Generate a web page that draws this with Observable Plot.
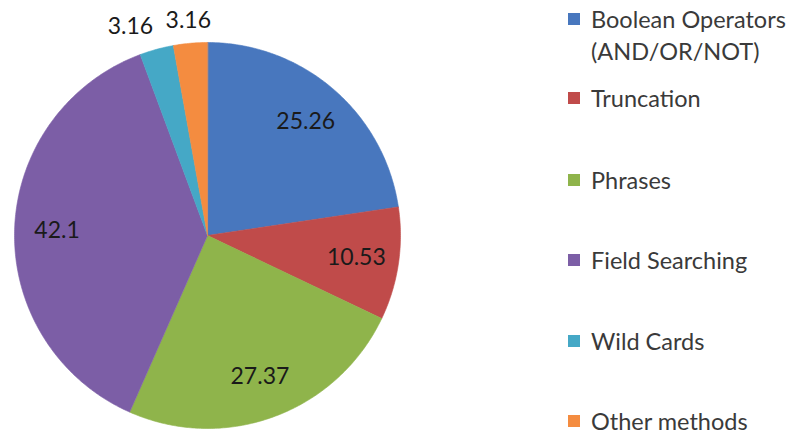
<!DOCTYPE html>
<html>
<head>
<meta charset="utf-8">
<script src="https://cdn.jsdelivr.net/npm/d3@7"></script>
<script src="https://cdn.jsdelivr.net/npm/@observablehq/plot@0.6"></script>
<style>
  html, body { margin: 0; padding: 0; background: #fff; }
  #wrap { position: relative; width: 794px; height: 435px; overflow: hidden; }
  #legend { position: absolute; left: 568px; top: 0; font-family: Lato, sans-serif; font-size: 23.5px; color: #3a3a3a; }
  .item { position: absolute; left: 0; display: flex; align-items: flex-start; white-space: nowrap; line-height: 32px; }
  .sw { width: 12px; height: 12px; margin-top: 10px; margin-right: 11px; flex: none; }
</style>
</head>
<body>
<div id="wrap"></div>
<script>
const categories = ["Boolean Operators\n(AND/OR/NOT)", "Truncation", "Phrases", "Field Searching", "Wild Cards", "Other methods"];
const values = [25.26, 10.53, 27.37, 42.1, 3.16, 3.16];
const labels = ["25.26", "10.53", "27.37", "42.1", "3.16", "3.16"];
const colors = ["#4877BE", "#C04B4A", "#8FB44B", "#7C5EA6", "#45A8C6", "#F48C40"];

const data = categories.map((c, i) => ({category: c, value: values[i], label: labels[i]}));
const arcs = d3.pie().sort(null).value(d => d.value)(data);

// polygon outline of each slice in unit-circle coordinates (y up)
const pts = [];
arcs.forEach(a => {
  const cat = a.data.category;
  pts.push({category: cat, x: 0, y: 0});
  const n = Math.max(2, Math.ceil((a.endAngle - a.startAngle) / 0.01));
  for (let k = 0; k <= n; k++) {
    const t = a.startAngle + (a.endAngle - a.startAngle) * k / n;
    pts.push({category: cat, x: Math.sin(t), y: Math.cos(t)});
  }
});

// label positions
const lab = arcs.map(a => {
  const mid = (a.startAngle + a.endAngle) / 2;
  const share = a.data.value / d3.sum(values);
  const r = share > 0.05 ? 0.78 : 1.12;
  return {label: a.data.label, x: r * Math.sin(mid), y: r * Math.cos(mid), outside: share <= 0.05};
});
// simple collision avoidance for outside labels: push earlier one left
const outs = lab.filter(d => d.outside);
for (let i = outs.length - 2; i >= 0; i--) {
  const minGap = 0.3;
  if (outs[i + 1].x - outs[i].x < minGap) outs[i].x = outs[i + 1].x - minGap;
}

const chart = Plot.plot({
  width: 794,
  height: 435,
  marginLeft: 14,
  marginRight: 394,
  marginTop: 42,
  marginBottom: 7,
  x: {domain: [-1, 1], axis: null},
  y: {domain: [-1, 1], axis: null},
  color: {domain: categories, range: colors},
  style: {background: "#fff"},
  marks: [
    Plot.line(pts, {x: "x", y: "y", z: "category", fill: "category", stroke: "category", strokeWidth: 0.6, curve: "linear-closed"}),
    Plot.text(lab, {x: "x", y: "y", text: "label", fontSize: 23, fill: "#1a1a1a", fontFamily: "Lato, sans-serif", textAnchor: "middle"})
  ]
});

const wrap = document.getElementById("wrap");
wrap.appendChild(chart);

const legend = document.createElement("div");
legend.id = "legend";
const centers = [19, 98, 180, 260, 341, 421];
categories.forEach((c, i) => {
  const item = document.createElement("div");
  item.className = "item";
  item.style.top = (centers[i] - 16) + "px";
  const sw = document.createElement("div");
  sw.className = "sw";
  sw.style.background = chart.scale("color").apply(c);
  const tx = document.createElement("div");
  tx.innerHTML = c.split("\n").join("<br>");
  item.appendChild(sw);
  item.appendChild(tx);
  legend.appendChild(item);
});
wrap.appendChild(legend);
</script>
</body>
</html>
